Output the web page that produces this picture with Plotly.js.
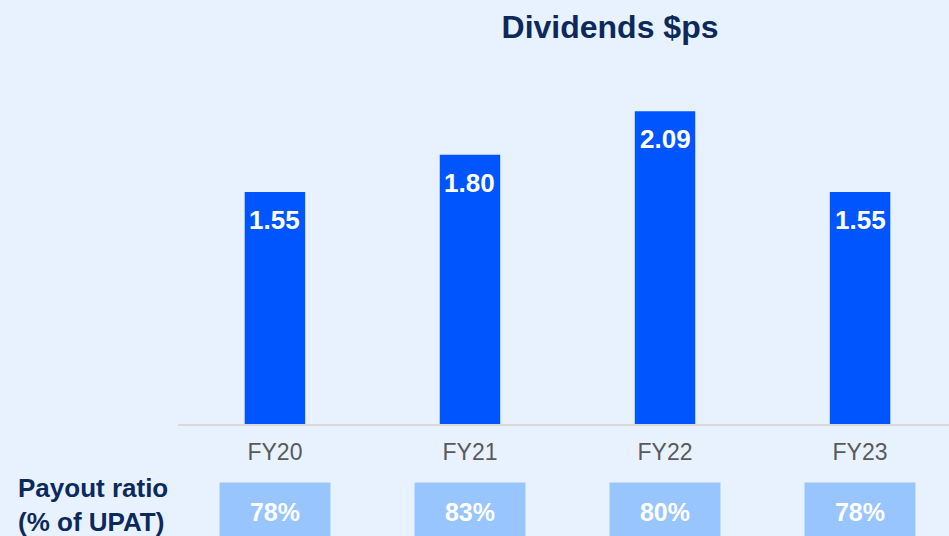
<!DOCTYPE html>
<html>
<head>
<meta charset="utf-8">
<script src="https://cdn.plot.ly/plotly-3.0.1.min.js"></script>
<style>
html,body{margin:0;padding:0;background:#e8f2fe;}
#chart{width:949px;height:536px;}
</style>
</head>
<body>
<div id="chart"></div>
<script>
// Data
const categories = ["FY20", "FY21", "FY22", "FY23"];
const dividends = [1.55, 1.80, 2.09, 1.55];
const dividendLabels = ["1.55", "1.80", "2.09", "1.55"];
const payoutRatio = ["78%", "83%", "80%", "78%"];

const navy = "#0b2a5b";
const bg = "#e8f2fe";
const fam = "'Liberation Sans', Arial, sans-serif";

const trace = {
  type: "bar",
  x: categories,
  y: dividends,
  marker: {color: "#0055ff"},
  width: 0.31,
  hoverinfo: "skip"
};

const annotations = [];
categories.forEach((c, i) => {
  annotations.push({
    x: c, y: dividends[i], xref: "x", yref: "y",
    text: "<b>" + dividendLabels[i] + "</b>", showarrow: false,
    yanchor: "middle", yshift: -28,
    font: {family: fam, size: 26, color: "#ffffff"}
  });
  annotations.push({
    x: c, y: -0.149, xref: "x", yref: "paper",
    text: "<b>" + payoutRatio[i] + "</b>", showarrow: false,
    yanchor: "top", xanchor: "center",
    width: 110, height: 58, borderpad: 0,
    bgcolor: "#99c5ff",
    font: {family: fam, size: 25, color: "#ffffff"}
  });
});
annotations.push({
  x: -0.2105, y: -0.207, xref: "paper", yref: "paper",
  text: "<b>Payout ratio<br>(% of UPAT)</b>", showarrow: false,
  xanchor: "left", yanchor: "middle", align: "left",
  font: {family: fam, size: 26, color: navy}
});

const layout = {
  width: 949, height: 536,
  paper_bgcolor: bg, plot_bgcolor: bg,
  margin: {l: 178, r: 0, t: 35, b: 112},
  showlegend: false,
  title: {
    text: "<b>Dividends $ps</b>",
    x: (610 - 178) / 771, xanchor: "center", xref: "paper",
    y: 1 - 27/536, yanchor: "middle", yref: "container",
    font: {family: fam, size: 32, color: navy}
  },
  xaxis: {
    type: "category",
    range: [-0.497, 3.456],
    showline: true, linecolor: "#d9d9d9", linewidth: 2,
    showgrid: false, zeroline: false, ticks: "",
    tickfont: {family: fam, size: 23, color: "#595959"},
    ticklabelstandoff: 6,
    fixedrange: true
  },
  yaxis: {
    range: [0, 2.6],
    visible: false, showgrid: false, zeroline: false,
    fixedrange: true
  },
  annotations: annotations
};

Plotly.newPlot("chart", [trace], layout, {displayModeBar: false, staticPlot: true});
</script>
</body>
</html>
